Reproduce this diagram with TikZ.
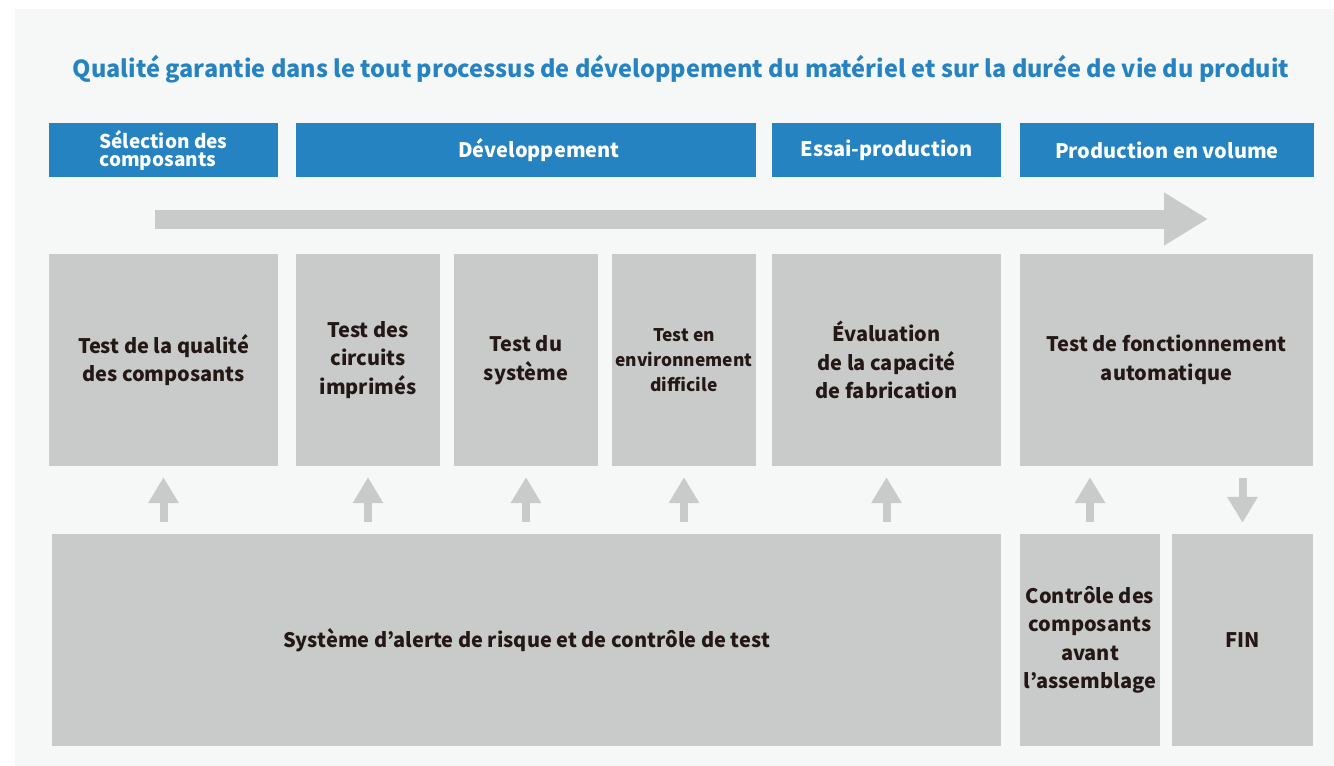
\documentclass[tikz,border=0pt]{standalone}
\usepackage{fontspec}
\setmainfont{Noto Sans CJK JP}
\usetikzlibrary{arrows.meta}
\definecolor{phaseblue}{HTML}{2683C1}
\definecolor{boxgrey}{HTML}{C9CACA}
\definecolor{panelbg}{HTML}{F6F8F8}
\definecolor{txtdark}{HTML}{231815}

\begin{document}
\begin{tikzpicture}[x=1pt, y=-1pt,
	every node/.style={align=center, inner sep=0pt, text=txtdark},
	phase/.style={fill=phaseblue, text=white, minimum height=54pt, font=\bfseries\fontsize{20}{18}\selectfont},
	testbox/.style={fill=boxgrey, minimum height=212pt, font=\bfseries\fontsize{20}{28.5}\selectfont},
	uparrow/.style={draw=boxgrey, line width=8pt, -{Triangle[width=29pt,length=26pt]}, shorten <=12pt, shorten >=11pt}]
			\useasboundingbox (0,0) rectangle (1334,766);
			\fill[panelbg] (15,9) rectangle (1334,766);

			% Title
			\node[font=\bfseries\fontsize{23.5}{28}\selectfont, text=phaseblue] (title) at (681,69) {Qualité garantie dans le tout processus de développement du matériel et sur la durée de vie du produit};

			% Phases
			\node[phase, minimum width=229pt, align=left, font=\bfseries\fontsize{19}{18}\selectfont] (sel) at (163.5,150) {Sélection des\\composants\hspace*{8pt}};
			\node[phase, minimum width=460pt] (dev) at (526,150) {\hspace*{26pt}Développement};
			\node[phase, minimum width=229pt] (essai) at (886.5,150) {Essai-production};
			\node[phase, minimum width=294pt] (prod) at (1167,150) {Production en volume};

			% Flow arrow
			\coordinate (flowstart) at (155,219);
			\coordinate (flowend) at (1208,219);
			\draw[draw=boxgrey, line width=19pt, -{Triangle[width=50pt,length=44pt]}] (flowstart) -- (flowend);

			% Tests
			\node[testbox, minimum width=229pt] (tqual) at (163.5,360) {Test de la qualité\\des composants};
			\node[testbox, minimum width=144pt] (tpcb) at (368,360) {Test des\\circuits\\imprimés};
			\node[testbox, minimum width=144pt] (tsys) at (526,360) {Test du\\système};
			\node[testbox, minimum width=144pt, font=\bfseries\fontsize{17.4}{25}\selectfont] (tenv) at (684,360) {Test en\\environnement\\difficile};
			\node[testbox, minimum width=229pt] (evalfab) at (886.5,360) {Évaluation\\de la capacité\\de fabrication};
			\node[testbox, minimum width=293pt] (tauto) at (1166.5,360) {Test de fonctionnement\\automatique};

			% Control
			\node[testbox, minimum width=949pt] (alerte) at (526.5,640) {Système d’alerte de risque et de contrôle de test};
			\node[testbox, minimum width=140pt] (ctrl) at (1090,640) {Contrôle des\\composants\\avant\\l’assemblage};
			\node[testbox, minimum width=141pt] (fin) at (1242.5,640) {FIN};

			% Edges
			\foreach \b in {tqual,tpcb,tsys,tenv,evalfab}
				\draw[uparrow] (\b.south |- alerte.north) -- (\b.south);
			\draw[uparrow] (ctrl.north) -- (ctrl.north |- tauto.south);
			\draw[uparrow] (fin.north |- tauto.south) -- (fin.north);
		\end{tikzpicture}
\end{document}
